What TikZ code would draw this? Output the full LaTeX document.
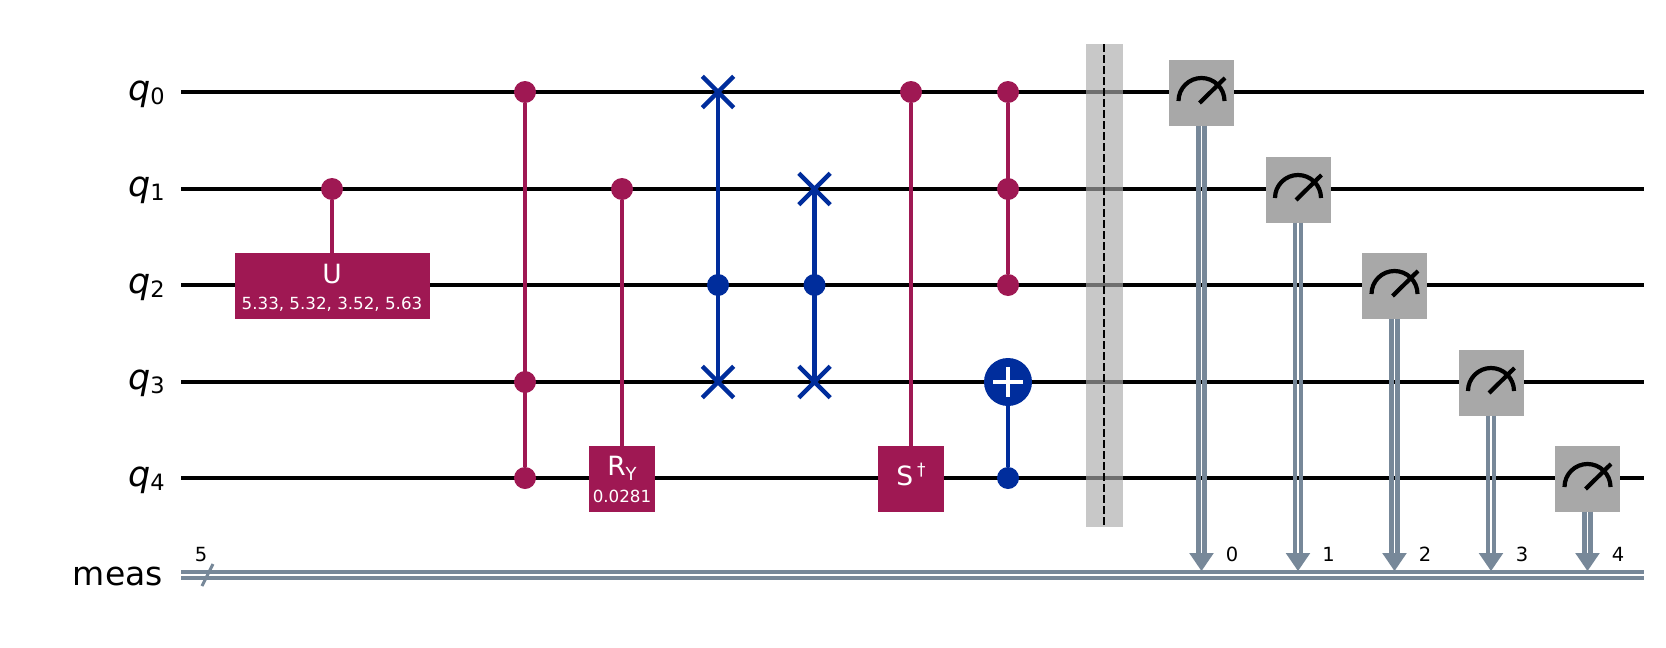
\documentclass[tikz,border=0pt]{standalone}
\usepackage{fontspec}
\setmainfont{DejaVu Sans}
\usetikzlibrary{shapes.misc}
\definecolor{qpurple}{HTML}{9F1853}
\definecolor{qblue}{HTML}{002D9C}
\definecolor{qgrey}{HTML}{A8A8A8}
\definecolor{qcl}{HTML}{778899}
\newcommand{\fs}[1]{\fontsize{#1}{#1}\selectfont}
\newcommand{\qlab}[1]{{\fs{35}\itshape q}\raisebox{-4pt}{\fs{22.5}#1}}
\tikzset{
  x=1pt,y=-1pt,
  wire/.style={line width=4.6pt,black},
  clwire/.style={line width=4.4pt,qcl},
  ctrlP/.style={circle,fill=qpurple,minimum size=22pt,inner sep=0pt},
  ctrlB/.style={circle,fill=qblue,minimum size=22pt,inner sep=0pt},
  linkP/.style={line width=4.6pt,qpurple},
  linkB/.style={line width=4.6pt,qblue},
  gatebox/.style={rectangle,fill=qpurple,inner sep=0pt,minimum height=66pt},
  gatetext/.style={white,anchor=base,inner sep=0pt,font=\fs{26.5}},
  paramtext/.style={white,anchor=base,inner sep=0pt,font=\fs{16.7}},
  swapx/.style={cross out,draw=qblue,line width=4.4pt,minimum size=27pt,inner sep=0pt},
  measbox/.style={rectangle,fill=qgrey,inner sep=0pt,minimum width=65pt,minimum height=66pt},
  reglabel/.style={anchor=base east,inner sep=0pt},
  smalltext/.style={anchor=base,inner sep=0pt,font=\fs{19.5}},
}
\begin{document}
\begin{tikzpicture}
\useasboundingbox (0,0) rectangle (1666,648);
\fill[white] (0,0) rectangle (1666,648);
% register labels
\node[reglabel] (l0) at (165,100) {\qlab{0}};
\node[reglabel] (l1) at (165,196.5) {\qlab{1}};
\node[reglabel] (l2) at (165,293) {\qlab{2}};
\node[reglabel] (l3) at (165,389.5) {\qlab{3}};
\node[reglabel] (l4) at (165,486) {\qlab{4}};
\node[reglabel,font=\fs{33}] (lm) at (163,585) {meas};
% wires
\foreach \i/\y in {0/92,1/189,2/285,3/382,4/478}{
  \coordinate (wl\i) at (181,\y);
  \coordinate (wr\i) at (1643.5,\y);
  \draw[wire] (wl\i) -- (wr\i);
}
\coordinate (cl1) at (181,572);\coordinate (cr1) at (1643.5,572);
\coordinate (cl2) at (181,578);\coordinate (cr2) at (1643.5,578);
\draw[clwire] (cl1) -- (cr1);
\draw[clwire] (cl2) -- (cr2);
\coordinate (sa) at (202,586);\coordinate (sb) at (213,564);
\draw[line width=3pt,qcl] (sa) -- (sb);
\node[smalltext] (five) at (201,561) {5};
% CU
\node[ctrlP] (a1) at (332,189) {};
\node[gatebox,minimum width=195pt] (u) at (332.5,286) {};
\draw[linkP] (a1) -- (a1|-u.north);
\node[gatetext] (ut) at (332,283) {U};
\node[paramtext] (up) at (332,309) {5.33, 5.32, 3.52, 5.63};
% CCZ
\node[ctrlP] (b0) at (525,92) {};
\node[ctrlP] (b3) at (525,382) {};
\node[ctrlP] (b4) at (525,478) {};
\draw[linkP] (b0) -- (b4);
% CRY
\node[ctrlP] (c1) at (622,189) {};
\node[gatebox,minimum width=66pt] (ry) at (622,479) {};
\draw[linkP] (c1) -- (ry);
\node[gatetext] (ryt) at (622,475) {R\raisebox{-5pt}{\fs{18}Y}};
\node[paramtext] (ryp) at (622,502) {0.0281};
% Fredkin 1
\node[swapx] (d0) at (718,92) {};
\node[swapx] (d3) at (718,382) {};
\node[ctrlB] (d2) at (718,285) {};
\draw[linkB] (d0.center) -- (d3.center);
% Fredkin 2
\node[swapx] (e1) at (814.5,189) {};
\node[swapx] (e3) at (814.5,382) {};
\node[ctrlB] (e2) at (814.5,285) {};
\draw[linkB] (e1.center) -- (e3.center);
% CSdg
\node[ctrlP] (f0) at (911,92) {};
\node[gatebox,minimum width=66pt] (sd) at (911,479) {};
\draw[linkP] (f0) -- (sd);
\node[gatetext] (sdt) at (911,485) {S\hspace{4pt}\raisebox{10pt}{\fs{17}†}};
% CCCX
\node[ctrlP] (g0) at (1008,92) {};
\node[ctrlP] (g1) at (1008,189) {};
\node[ctrlP] (g2) at (1008,285) {};
\draw[linkP] (g0) -- (g2);
\node[ctrlB] (g4) at (1008,478) {};
\node[circle,fill=qblue,minimum size=48pt,inner sep=0pt] (g3) at (1008,382) {};
\draw[linkB] (g3) -- (g4);
\draw[line width=4.5pt,white] ([xshift=-15pt]g3.center) -- ([xshift=15pt]g3.center);
\draw[line width=4.5pt,white] ([yshift=-15pt]g3.center) -- ([yshift=15pt]g3.center);
% barrier
\fill[fill=black!33,fill opacity=0.65] (1086,44) rectangle (1123,527);
\coordinate (bt) at (1104,44);\coordinate (bb) at (1104,527);
\draw[line width=2pt,black,dash pattern=on 7.6pt off 3.4pt] (bt) -- (bb);
% measures
\foreach \i/\x/\y/\tx in {0/1201.5/92.5/1232,1/1298/189.5/1328.5,2/1394.5/285.5/1425,3/1491/382.5/1522,4/1587.5/478.5/1618}{
  \coordinate (t\i) at (\x,571);
  \node[measbox] (m\i) at (\x,\y) {};
  \draw[clwire] ([xshift=-3pt]m\i.south) -- ([xshift=-3pt]\x,555);
  \draw[clwire] ([xshift=3pt]m\i.south) -- ([xshift=3pt]\x,555);
  \fill[qcl] (t\i) -- ++(-12.3,-18) -- ++(24.6,0) -- cycle;
  \draw[line width=4.2pt,black] ([shift={(-23pt,-8.5pt)}]m\i.center) arc[start angle=180,end angle=0,radius=23pt];
  \draw[line width=4.2pt,black] ([shift={(-2pt,-10.5pt)}]m\i.center) -- ([shift={(23.5pt,14.5pt)}]m\i.center);
  \node[smalltext] (n\i) at (\tx,561) {\i};
}
\end{tikzpicture}
\end{document}
